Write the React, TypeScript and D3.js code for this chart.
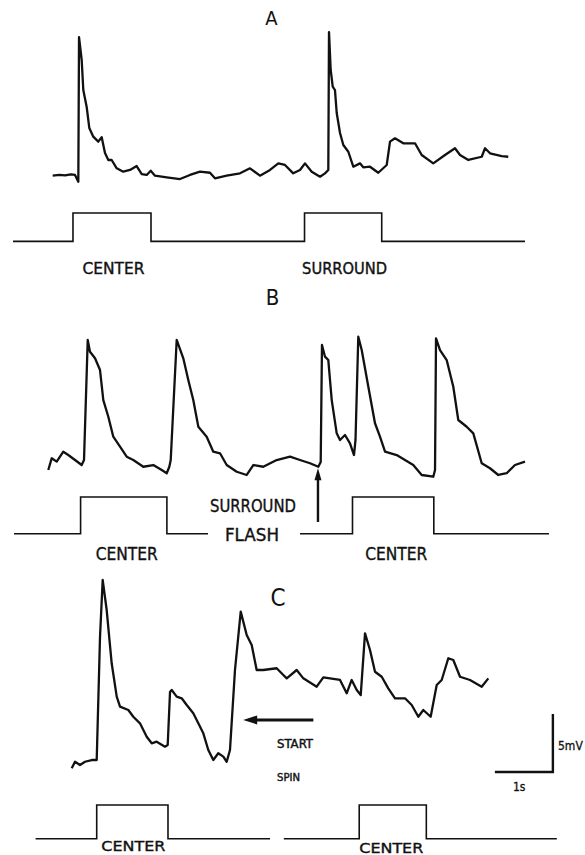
import React from 'react';
import * as d3 from 'd3';

type Pt = [number, number];

// time in s, membrane potential in mV (relative to each panel's resting level)
const traceA: Pt[] = [
  [0.736, 0.03], [0.85, 0.1], [0.95, 0.05], [1.05, 0.15], [1.121, 0.09], [1.178, -0.49],
  [1.19, 11.98], [1.236, 10.0], [1.264, 7.41], [1.322, 5.95], [1.367, 4.14], [1.436, 3.39],
  [1.522, 2.96], [1.581, 3.34], [1.638, 1.98], [1.695, 1.38], [1.753, 1.38], [1.84, 0.66],
  [1.953, 0.37], [2.069, 0.52], [2.184, 0.86], [2.271, 0.17], [2.357, 0.09], [2.426, 0.46],
  [2.5, 0.03], [2.702, -0.11], [2.931, -0.26], [3.103, 0.09], [3.276, 0.37], [3.448, 0.28],
  [3.534, -0.2], [3.736, 0.03], [3.966, 0.23], [4.138, 0.66], [4.31, 0.03], [4.483, 0.52],
  [4.626, 1.09], [4.741, 0.95], [4.884, 0.23], [5.0, 0.52], [5.086, 1.09], [5.202, 0.37],
  [5.345, -0.06], [5.431, 0.23], [5.488, 0.52], [5.5, 12.41], [5.529, 9.14], [5.564, 7.7],
  [5.603, 7.41], [5.633, 5.43], [5.69, 3.71], [5.747, 2.67], [5.833, 2.09], [5.919, 0.8],
  [6.034, 1.09], [6.091, 0.75], [6.207, 0.8], [6.35, 0.28], [6.495, 0.95], [6.552, 2.96],
  [6.638, 3.25], [6.781, 2.82], [6.983, 2.82], [7.098, 1.81], [7.298, 1.09], [7.5, 1.81],
  [7.672, 2.39], [7.759, 1.81], [7.902, 1.38], [8.133, 1.66], [8.19, 2.39], [8.276, 1.96],
  [8.478, 1.72], [8.591, 1.66],
];

const traceB: Pt[] = [
  [0.66, 0], [0.719, 1.01], [0.805, 0.72], [0.919, 1.58], [1.005, 1.29], [1.121, 0.86],
  [1.236, 0.43], [1.276, 0.86], [1.34, 11.21], [1.379, 10.2], [1.466, 9.63], [1.552, 8.62],
  [1.609, 6.03], [1.695, 4.59], [1.781, 2.87], [1.897, 2.01], [2.012, 1.15], [2.126, 0.86],
  [2.298, 0.28], [2.471, 0.43], [2.616, 0], [2.702, -0.28], [2.747, 0.28], [2.771, 0.86],
  [2.874, 11.21], [2.988, 9.63], [3.074, 7.76], [3.16, 6.03], [3.247, 3.73], [3.391, 2.87],
  [3.505, 1.58], [3.621, 1.44], [3.736, 0.43], [3.909, -0.15], [4.081, -0.43], [4.195, 0.43],
  [4.367, 0.28], [4.598, 0.86], [4.828, 1.15], [5.0, 0.86], [5.172, 0.58], [5.316, 0.28],
  [5.357, 0.69], [5.379, 10.78], [5.431, 9.77], [5.488, 9.48], [5.547, 6.03], [5.633, 3.16],
  [5.69, 2.59], [5.776, 3.02], [5.862, 2.3], [5.931, 1.29], [5.957, 2.59], [6.005, 11.49],
  [6.064, 10.34], [6.178, 7.18], [6.293, 4.03], [6.379, 2.87], [6.466, 1.58], [6.667, 1.29],
  [6.81, 0.86], [6.953, 0.43], [7.098, -0.43], [7.298, -0.58], [7.328, 0], [7.345, 11.35],
  [7.414, 10.34], [7.529, 9.48], [7.643, 7.18], [7.729, 4.31], [7.874, 3.73], [7.988, 3.16],
  [8.133, 0.58], [8.276, 0.15], [8.419, -0.43], [8.564, -0.28], [8.707, 0.43], [8.879, 0.72],
];

const traceC: Pt[] = [
  [1.064, -0.28], [1.121, 0.28], [1.207, 0], [1.293, 0.28], [1.409, 0.43], [1.495, 0.43],
  [1.552, 11.06], [1.598, 15.95], [1.667, 13.36], [1.753, 8.77], [1.84, 5.89], [1.897, 5.03],
  [2.04, 4.74], [2.126, 4.16], [2.241, 3.59], [2.357, 2.44], [2.443, 1.87], [2.529, 2.01],
  [2.672, 1.58], [2.719, 1.72], [2.759, 6.29], [2.788, 6.47], [2.874, 5.89], [2.96, 5.75],
  [3.047, 5.17], [3.16, 4.46], [3.247, 3.59], [3.333, 2.73], [3.419, 1.29], [3.505, 0.43],
  [3.591, 1.01], [3.678, 0.72], [3.736, 0.28], [3.793, 1.29], [3.879, 8.19], [3.978, 13.22],
  [4.081, 11.21], [4.167, 10.34], [4.253, 8.19], [4.367, 8.19], [4.598, 8.34], [4.712, 7.76],
  [4.771, 7.47], [4.943, 8.19], [5.057, 7.47], [5.288, 6.75], [5.402, 7.56], [5.69, 7.33],
  [5.805, 6.18], [5.891, 7.33], [5.978, 6.47], [6.047, 6.03], [6.121, 11.35], [6.207, 9.91],
  [6.293, 8.04], [6.409, 7.61], [6.522, 6.61], [6.638, 5.75], [6.81, 5.75], [6.926, 5.17],
  [7.04, 4.16], [7.126, 4.74], [7.253, 4.16], [7.357, 6.9], [7.443, 7.33], [7.557, 9.2],
  [7.643, 9.05], [7.759, 7.61], [7.931, 7.33], [8.133, 6.75], [8.247, 7.47],
];

// light stimulus monitor: [time s, on(1)/off(0)]
const stimA: Pt[] = [[0.052, 0], [1.086, 1], [2.431, 0], [5.078, 1], [6.409, 0], [8.879, 0]];
const stimB1: Pt[] = [[0.069, 0], [1.217, 1], [2.705, 0], [3.414, 0]];
const stimB2: Pt[] = [[5.0, 0], [5.905, 1], [7.307, 0], [9.293, 0]];
const stimC1: Pt[] = [[0.441, 0], [1.495, 1], [2.724, 0], [4.483, 0]];
const stimC2: Pt[] = [[4.721, 0], [6.021, 1], [7.178, 0], [9.428, 0]];

const pulsesA = [[1.086, 2.431, 'CENTER'], [5.078, 6.409, 'SURROUND']] as const;
const pulsesB = [[1.217, 2.705, 'CENTER'], [5.905, 7.307, 'CENTER']] as const;
const pulsesC = [[1.495, 2.724, 'CENTER'], [6.021, 7.178, 'CENTER']] as const;

const surroundFlashTime = 5.31;
const spinArrow: Pt[] = [[5.23, 3.88], [4.02, 3.88]];
const scaleBarTime = [8.36, 9.36];
const scaleBarMv = [-0.6, 4.4];

const W = 585;
const H = 855;
const FONT = '"DejaVu Sans Condensed", "DejaVu Sans", sans-serif';

const x = d3.scaleLinear().domain([0, 10]).range([10, 590]);
const yA = d3.scaleLinear().domain([0, 10]).range([176, 60]);
const yB = d3.scaleLinear().domain([0, 10]).range([470, 354]);
const yC = d3.scaleLinear().domain([0, 10]).range([765, 649]);
const sA = d3.scaleLinear().domain([0, 1]).range([241.4, 213]);
const sB = d3.scaleLinear().domain([0, 1]).range([533.7, 497]);
const sC = d3.scaleLinear().domain([0, 1]).range([838.7, 805]);

const tracePath = (y: d3.ScaleLinear<number, number>, d: Pt[]) =>
  d3.line<Pt>().x(p => x(p[0])).y(p => y(p[1]))(d) ?? '';

const stepPath = (y: d3.ScaleLinear<number, number>, d: Pt[]) =>
  d3.line<Pt>().x(p => x(p[0])).y(p => y(p[1])).curve(d3.curveStepAfter)(d) ?? '';

const Label = ({ cx, y, text, size, len }: { cx: number; y: number; text: string; size: number; len: number }) => (
  <text x={cx} y={y} textAnchor="middle" fontFamily={FONT} fontSize={size}
    textLength={len} lengthAdjust="spacingAndGlyphs" fill="#111" stroke="#111" strokeWidth={0.35}>
    {text}
  </text>
);

export default function App() {
  const traceStyle = { fill: 'none', stroke: '#111', strokeWidth: 2.3, strokeLinejoin: 'round' as const };
  const stimStyle = { fill: 'none', stroke: '#111', strokeWidth: 1.6 };

  const flashX = x(surroundFlashTime);
  const flashTipY = yB(0.15);
  const flashTailY = sB(0.32);

  const ax0 = x(spinArrow[0][0]);
  const ax1 = x(spinArrow[1][0]);
  const ay = yC(spinArrow[0][1]);

  const sbx0 = x(scaleBarTime[0]);
  const sbx1 = x(scaleBarTime[1]);
  const sby0 = yC(scaleBarMv[0]);
  const sby1 = yC(scaleBarMv[1]);

  return (
    <svg width={W} height={H} style={{ position: 'absolute', left: 0, top: 0, background: '#fff' }}>
      <rect width={W} height={H} fill="#fff" />

      {/* A */}
      <text x={271.5} y={25} textAnchor="middle" fontFamily={FONT} fontSize={20} fill="#111">A</text>
      <path d={tracePath(yA, traceA)} {...traceStyle} />
      <path d={stepPath(sA, stimA)} {...stimStyle} />
      {pulsesA.map(([on, off, t], i) => (
        <Label key={i} cx={(x(on) + x(off)) / 2 + 1.5} y={274} text={t} size={15} len={t === 'CENTER' ? 62 : 85} />
      ))}

      {/* B */}
      <text x={272.5} y={305} textAnchor="middle" fontFamily={FONT} fontSize={22} fill="#111">B</text>
      <path d={tracePath(yB, traceB)} {...traceStyle} />
      <path d={stepPath(sB, stimB1)} {...stimStyle} />
      <path d={stepPath(sB, stimB2)} {...stimStyle} />
      {pulsesB.map(([on, off, t], i) => (
        <Label key={i} cx={(x(on) + x(off)) / 2 + 3} y={560} text={t} size={17} len={62} />
      ))}
      <Label cx={253} y={512} text="SURROUND" size={17} len={86} />
      <Label cx={252} y={541} text="FLASH" size={17} len={54} />
      <line x1={flashX} x2={flashX} y1={flashTailY} y2={flashTipY + 10} stroke="#111" strokeWidth={2.4} />
      <path d={`M${flashX},${flashTipY} L${flashX - 3.5},${flashTipY + 12} L${flashX + 3.5},${flashTipY + 12} Z`} fill="#111" />

      {/* C */}
      <text x={278} y={606} textAnchor="middle" fontFamily={FONT} fontSize={24} fill="#111">C</text>
      <path d={tracePath(yC, traceC)} {...traceStyle} />
      <path d={stepPath(sC, stimC1)} {...stimStyle} />
      <path d={stepPath(sC, stimC2)} {...stimStyle} />
      {pulsesC.map(([on, off, t], i) => (
        <Label key={i} cx={(x(on) + x(off)) / 2 + (i === 0 ? 1 : -1.5)} y={i === 0 ? 851 : 852.5} text={t} size={14.5} len={64} />
      ))}
      <line x1={ax0} x2={ax1 + 10} y1={ay} y2={ay} stroke="#111" strokeWidth={3} />
      <path d={`M${ax1},${ay} L${ax1 + 14},${ay - 4.5} L${ax1 + 14},${ay + 4.5} Z`} fill="#111" />
      <text x={277} y={748} fontFamily={FONT} fontSize={12} textLength={36} lengthAdjust="spacingAndGlyphs"
        fill="#111" stroke="#111" strokeWidth={0.4}>START</text>
      <text x={277} y={781} fontFamily={FONT} fontSize={11} textLength={23} lengthAdjust="spacingAndGlyphs"
        fill="#111" stroke="#111" strokeWidth={0.4}>SPIN</text>

      {/* scale bar */}
      <path d={`M${sbx0},${sby0} L${sbx1},${sby0} L${sbx1},${sby1}`} fill="none" stroke="#111" strokeWidth={2.4} />
      <text x={558} y={750} fontFamily={FONT} fontSize={12} fill="#111" stroke="#111" strokeWidth={0.3}>5mV</text>
      <text x={513} y={791} fontFamily={FONT} fontSize={12} fill="#111" stroke="#111" strokeWidth={0.3}>1s</text>
    </svg>
  );
}
